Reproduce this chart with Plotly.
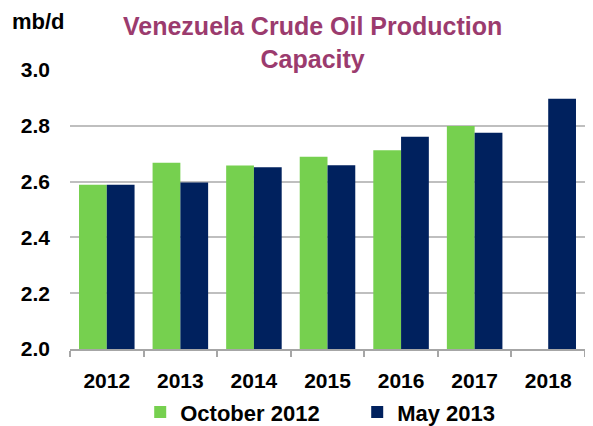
import plotly.graph_objects as go

# Venezuela crude oil production capacity, mb/d
years = ["2012", "2013", "2014", "2015", "2016", "2017", "2018"]
oct_2012 = [2.588, 2.667, 2.657, 2.689, 2.712, 2.799, None]
may_2013 = [2.588, 2.596, 2.651, 2.658, 2.760, 2.775, 2.896]
y_ticks = [2.0, 2.2, 2.4, 2.6, 2.8, 3.0]

GREEN = "#76d04f"
NAVY = "#00215e"
GRID = "#bfbfbf"
FONT = "Liberation Sans, Arial, sans-serif"

fig = go.Figure()
fig.add_trace(go.Bar(x=years, y=oct_2012, name="October 2012",
                     marker=dict(color=GREEN, line=dict(width=0))))
fig.add_trace(go.Bar(x=years, y=may_2013, name="May 2013",
                     marker=dict(color=NAVY, line=dict(width=0))))

# the page body has an 8px margin, so the figure is sized to fit the window
fig.update_layout(
    width=585, height=418,
    margin=dict(l=62, r=8, t=61, b=77),
    paper_bgcolor="white", plot_bgcolor="white",
    barmode="group", bargap=0.245, bargroupgap=0,
    font=dict(family=FONT, color="black"),
    showlegend=True,
    # container-referenced legend so it doesn't push the plot area around
    legend=dict(orientation="h", xref="container", yref="container",
                x=0.226, xanchor="left", y=0.033, yanchor="middle",
                font=dict(size=22, family=FONT, weight="bold"),
                itemwidth=30, entrywidth=172, bgcolor="rgba(0,0,0,0)"),
)

fig.update_xaxes(
    type="category", automargin=False,
    showgrid=False, showline=True, linecolor="#a6a6a6", linewidth=2,
    ticks="outside", tickson="boundaries", ticklen=6, tickcolor="#a6a6a6", tickwidth=2,
    ticklabelstandoff=12,
    tickfont=dict(size=21, family=FONT, weight="bold"),
)
fig.update_yaxes(
    range=[2.0, 3.003], tickvals=y_ticks, tickformat=".1f", automargin=False,
    showgrid=True, gridcolor=GRID, gridwidth=2, zeroline=False, showline=False,
    ticklabelstandoff=19,
    tickfont=dict(size=21, family=FONT, weight="bold"),
)

fig.add_annotation(text="mb/d", xref="paper", yref="paper", x=-0.116, y=1.168,
                   xanchor="left", yanchor="middle", showarrow=False,
                   font=dict(size=22, family=FONT, weight="bold"))
fig.add_annotation(text="Venezuela Crude Oil Production<br>Capacity",
                   xref="paper", yref="paper", x=0.47, y=1.093,
                   xanchor="center", yanchor="middle", showarrow=False,
                   font=dict(size=25, family=FONT, weight="bold", color="#9b3b6e"))

fig.write_html("out.html")
